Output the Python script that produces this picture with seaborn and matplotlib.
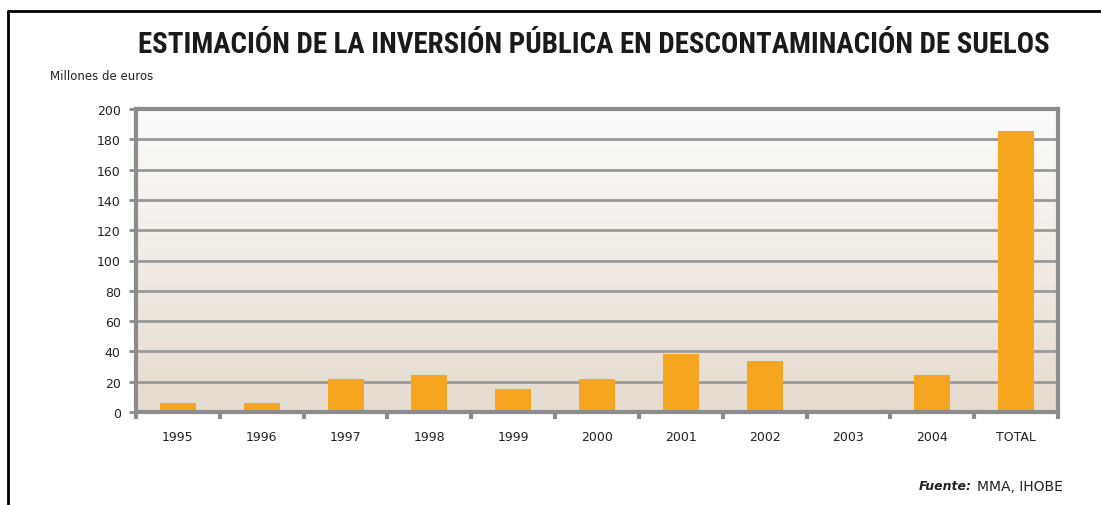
import numpy as np
import matplotlib
matplotlib.use("Agg")
import matplotlib.pyplot as plt
import seaborn as sns
import pandas as pd
from matplotlib.lines import Line2D
from matplotlib.colors import LinearSegmentedColormap

categories = ["1995", "1996", "1997", "1998", "1999", "2000", "2001", "2002", "2003", "2004", "TOTAL"]
values = [6, 6, 21.5, 24.5, 15, 21.5, 38.5, 33.5, 0, 24.5, 185.5]
yticks = [0, 20, 40, 60, 80, 100, 120, 140, 160, 180, 200]

sns.set_theme(style="white")
plt.rcParams['font.family'] = ['DejaVu Sans']

fig = plt.figure(figsize=(11.01, 5.06), dpi=100)
ax = fig.add_axes([136/1101, 1-413/506, (1058-136)/1101, (413-110)/506])

df = pd.DataFrame({"cat": categories, "val": values})

# gradient background
cmap = LinearSegmentedColormap.from_list("bg", ["#e5dbce", "#fdfcfb"])
grad = np.linspace(0, 1, 256).reshape(-1, 1)
ax.imshow(grad, cmap=cmap, aspect="auto", extent=[0, 1, 0, 1], origin="lower",
          transform=ax.transAxes, zorder=0)

sns.barplot(data=df, x="cat", y="val", color="#F6A520", width=0.43, ax=ax,
            saturation=1, zorder=3, linewidth=0, edgecolor="none")

ax.set_ylim(0, 200)
ax.set_xlim(-0.5, len(categories) - 0.5)
ax.set_yticks(yticks)
ax.set_yticklabels([str(t) for t in yticks], fontsize=9, color="#222222")
ax.yaxis.grid(True, color="#9a9a9a", linewidth=2)
ax.set_axisbelow(False)
for line in ax.get_ygridlines():
    line.set_zorder(1)
ax.set_xlabel("")
ax.set_ylabel("")

ax.set_xticks(range(len(categories)))
ax.set_xticklabels(categories, fontsize=9, color="#222222")
ax.tick_params(axis="x", which="major", length=0, pad=13)
ax.set_xticks(np.arange(-0.5, len(categories) - 0.5 + 0.01, 1), minor=True)
ax.tick_params(axis="x", which="minor", length=5, width=3, color="#8c8c8c", direction="out", bottom=True)
ax.tick_params(axis="y", which="major", length=5, width=2, color="#8c8c8c", direction="out", left=True, pad=6)

for s in ax.spines.values():
    s.set_visible(True)
    s.set_color("#8c8c8c")
    s.set_linewidth(3)
    s.set_zorder(4)

# title and labels
fig.text(594/1101, 1-45/506, "ESTIMACIÓN DE LA INVERSIÓN PÚBLICA EN DESCONTAMINACIÓN DE SUELOS",
         ha="center", va="center", fontsize=20.8, fontweight="bold", color="#1a1a1a",
         family=["Roboto Condensed", "DejaVu Sans"])
fig.text(50/1101, 1-76/506, "Millones de euros", ha="left", va="center", fontsize=8.5, color="#222222")
fig.text(1063/1101, 1-487/506, "MMA, IHOBE", ha="right", va="center", fontsize=10, color="#222222")
fig.text(972/1101, 1-487/506, "Fuente:", ha="right", va="center", fontsize=9,
         fontweight="bold", style="italic", color="#222222")

# frame lines
fig.add_artist(Line2D([8/1101, 1], [1-12/506, 1-12/506], transform=fig.transFigure, color="black", linewidth=2))
fig.add_artist(Line2D([8/1101, 8/1101], [0, 1-12/506], transform=fig.transFigure, color="black", linewidth=2))

fig.savefig("out.png", dpi=100, facecolor="white")
